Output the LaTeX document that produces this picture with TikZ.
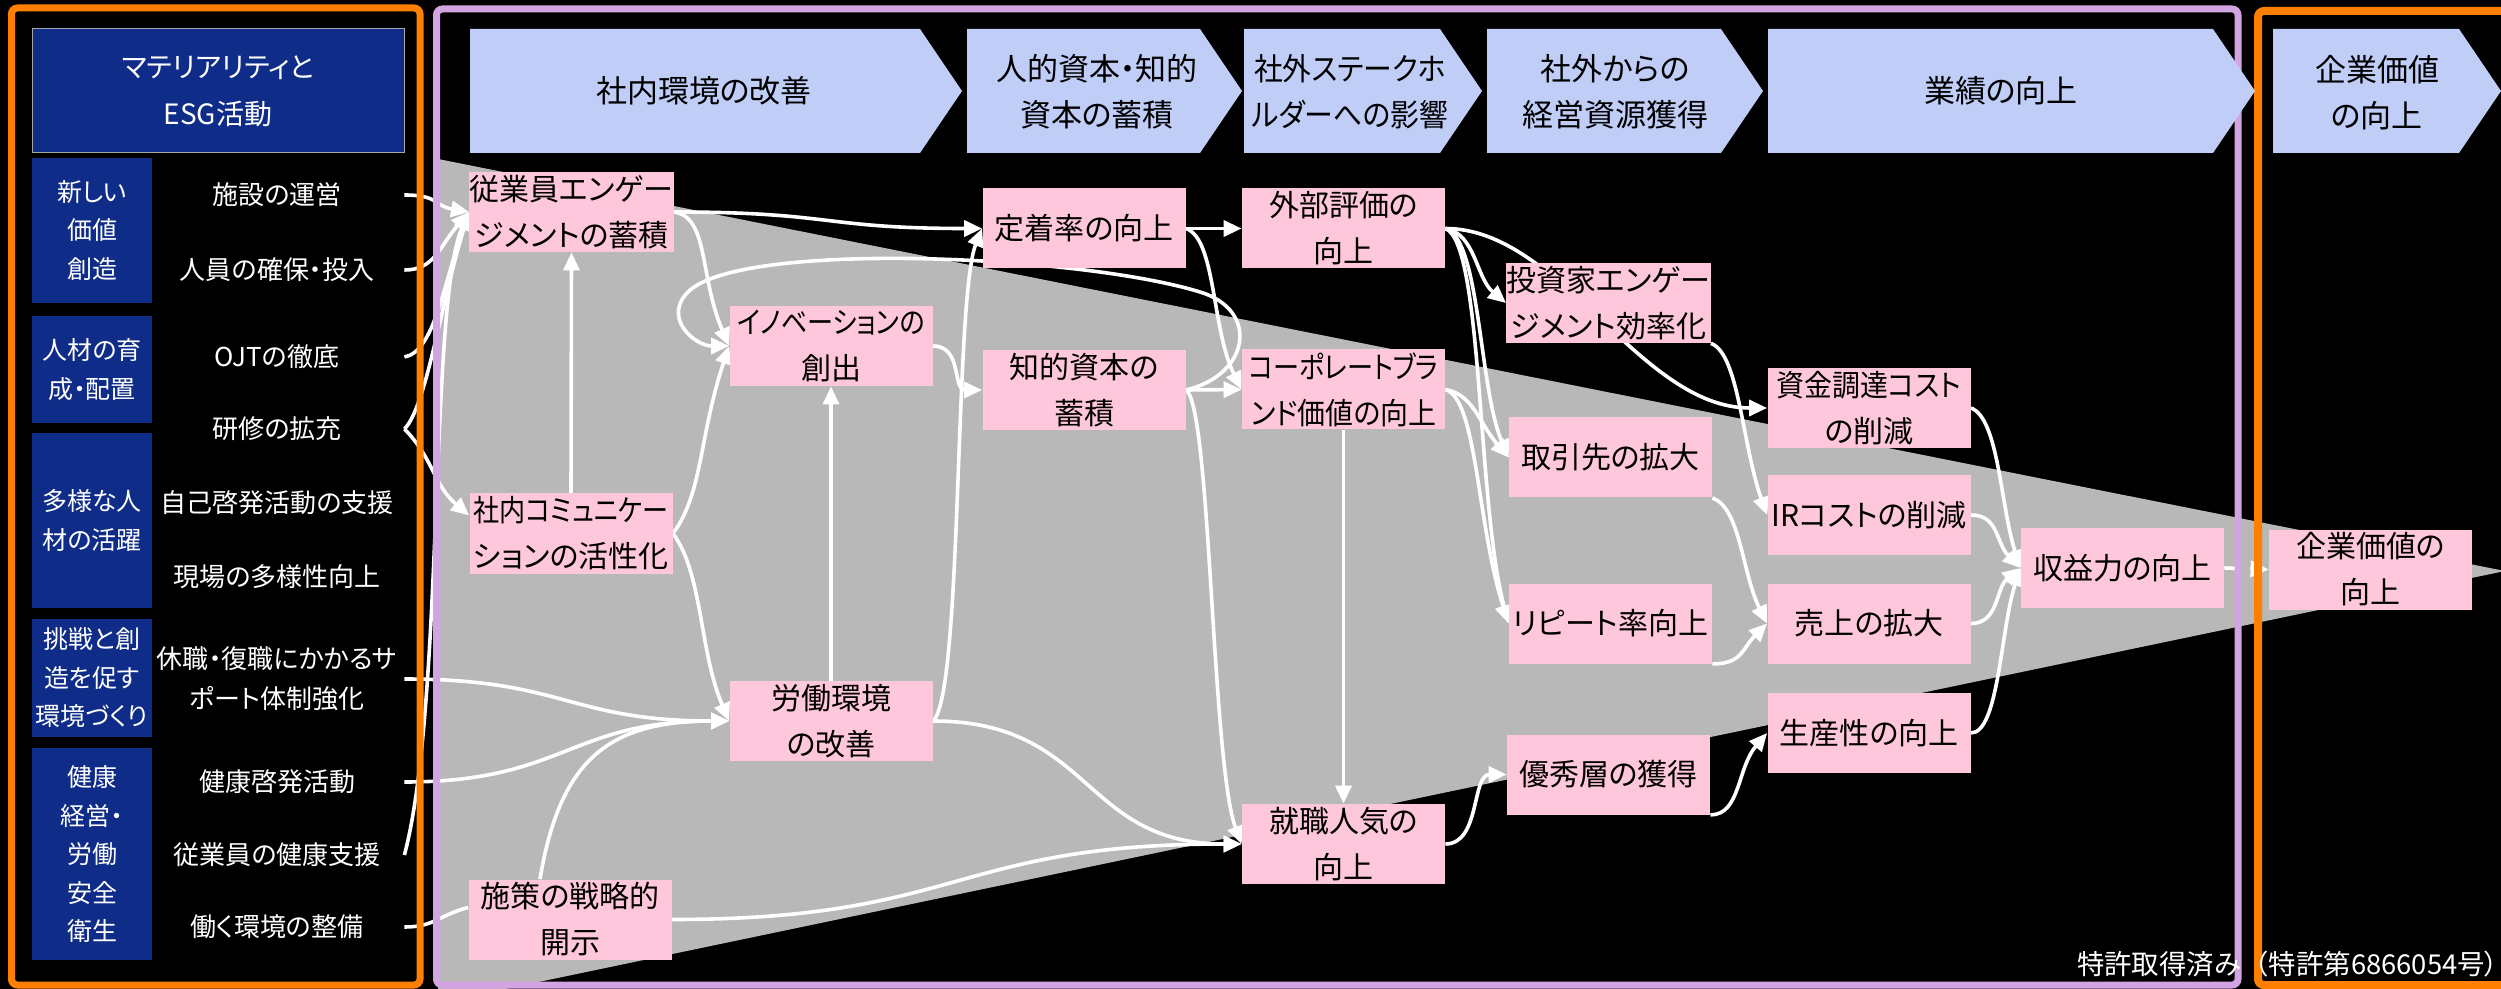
\documentclass[tikz,border=0pt]{standalone}
\usepackage{fontspec}
\usepackage{graphicx}
\setmainfont{Noto Sans CJK JP}[RawFeature={+palt}]
\newfontfamily\plainjp{Noto Sans CJK JP}
\usetikzlibrary{arrows.meta,calc}
\definecolor{navy}{HTML}{0F2C88}
\definecolor{chev}{HTML}{BFCDF7}
\definecolor{pinkbox}{HTML}{FFC7DB}
\definecolor{funnel}{HTML}{B8B8B8}
\definecolor{frameor}{HTML}{FF8000}
\definecolor{framepu}{HTML}{D2A4E1}
\newcommand{\narrowtxt}[1]{\scalebox{0.87}[1]{#1}}
\newcommand{\slimtxt}[1]{\scalebox{0.93}[1]{#1}}
\pgfdeclarelayer{bg}
\pgfdeclarelayer{edges}
\pgfsetlayers{bg,edges,main}
\tikzset{
  pbox/.style={fill=pinkbox, text=black, minimum width=101.5pt, minimum height=40pt, inner sep=0pt, align=center, font=\fontsize{15pt}{23pt}\selectfont},
  catbox/.style={fill=navy, text=white, minimum width=60pt, inner sep=0pt, align=center, font=\fontsize{12.5pt}{19.25pt}\selectfont},
  itemtext/.style={text=white, minimum width=127pt, inner sep=0pt, align=center, font=\fontsize{13pt}{20pt}\selectfont},
  chevtext/.style={text=black, inner sep=0pt, align=center, font=\fontsize{15.5pt}{23pt}\selectfont},
  chevshape/.style={fill=chev},
  conn/.style={draw=white, line width=1.8pt, -{Triangle[length=9pt,width=8pt]}},
  plainconn/.style={draw=white, line width=1.8pt},
}
\begin{document}
\begin{tikzpicture}[x=0.5pt,y=-0.5pt]
\useasboundingbox (0,0) rectangle (2501,989);
\begin{pgfonlayer}{bg}
\fill[black] (0,0) rectangle (2501,989);
\begin{scope}
\clip (0,0) rectangle (2501,989);
\fill[funnel] (438,159) -- (2505,571) -- (438,1003) -- cycle;
\end{scope}
\end{pgfonlayer}

% frames
\draw[frameor, line width=3.5pt, rounded corners=3pt] (11.5,8) rectangle (420,985);
\draw[framepu, line width=3.5pt, rounded corners=3pt] (436.5,9) rectangle (2238,985);
\draw[frameor, line width=4pt, rounded corners=3pt] (2258,11) rectangle (2530,985);

% header chevrons
\fill[chevshape] (470,29) -- (920,29) -- (962,91) -- (920,153) -- (470,153) -- cycle;
\fill[chevshape] (967,29) -- (1200,29) -- (1242,91) -- (1200,153) -- (967,153) -- cycle;
\fill[chevshape] (1244,29) -- (1440,29) -- (1482,91) -- (1440,153) -- (1244,153) -- cycle;
\fill[chevshape] (1487,29) -- (1721,29) -- (1763,91) -- (1721,153) -- (1487,153) -- cycle;
\fill[chevshape] (1768,29) -- (2213,29) -- (2255,91) -- (2213,153) -- (1768,153) -- cycle;
\fill[chevshape] (2273,29) -- (2459,29) -- (2501,91) -- (2459,153) -- (2273,153) -- cycle;
\node[chevtext] (h1) at (704,91) {社内環境の改善};
\node[chevtext] (h2) at (1097,92) {人的資本・知的\\資本の蓄積};
\node[chevtext] (h3) at (1350,92) {\slimtxt{社外ステークホ}\\\slimtxt{ルダーへの影響}};
\node[chevtext] (h4) at (1615,92) {社外からの\\経営資源獲得};
\node[chevtext] (h5) at (2001,91) {業績の向上};
\node[chevtext] (h6) at (2377,93) {企業価値\\の向上};

% left panel
\node[fill=navy, draw=gray!70, line width=0.5pt, minimum width=186pt, minimum height=62pt, inner sep=0pt, text=white, align=center, font=\fontsize{14pt}{23.5pt}\selectfont] (hdr) at (218,91) {マテリアリティと\\ESG活動};
\node[catbox, minimum height=72.5pt] (c1) at (92,230.5) {新しい\\価値\\創造};
\node[catbox, minimum height=53.5pt] (c2) at (92,369.5) {人材の育\\成・配置};
\node[catbox, minimum height=87.5pt] (c3) at (92,520.5) {多様な人\\材の活躍};
\node[catbox, minimum height=59pt] (c4) at (92,678) {挑戦と創\\造を促す\\環境づくり};
\node[catbox, minimum height=106pt] (c5) at (92,854) {健康\\経営・\\労働\\安全\\衛生};

\node[itemtext] (i1) at (277,195) {施設の運営};
\node[itemtext] (i2) at (277,270) {人員の確保・投入};
\node[itemtext] (i3) at (277,357) {OJTの徹底};
\node[itemtext] (i4) at (277,429) {研修の拡充};
\node[itemtext] (i5) at (277,503) {自己啓発活動の支援};
\node[itemtext] (i6) at (277,577) {現場の多様性向上};
\node[itemtext] (i7) at (277,679) {休職・復職にかかるサ\\ポート体制強化};
\node[itemtext] (i8) at (277,782) {健康啓発活動};
\node[itemtext] (i9) at (277,855) {従業員の健康支援};
\node[itemtext] (i10) at (277,927) {働く環境の整備};

% pink nodes
\node[pbox] (n_eng) at (571.5,212) {従業員エンゲー\\ジメントの蓄積};
\node[pbox] (n_comm) at (571,533.5) {\narrowtxt{社内コミュニケー}\\ションの活性化};
\node[pbox] (n_disc) at (570,919.5) {施策の戦略的\\開示};
\node[pbox] (n_innov) at (831,346) {\narrowtxt{イノベーションの}\\創出};
\node[pbox] (n_labor) at (831,721) {労働環境\\の改善};
\node[pbox] (n_ret) at (1084,228.5) {定着率の向上};
\node[pbox] (n_ip) at (1084,390) {知的資本の\\蓄積};
\node[pbox] (n_ext) at (1343.5,228.5) {外部評価の\\向上};
\node[pbox] (n_brand) at (1343.5,389.5) {\narrowtxt{コーポレートブラ}\\\slimtxt{ンド価値の向上}};
\node[pbox] (n_pop) at (1343.5,844) {就職人気の\\向上};
\node[pbox] (n_inv) at (1608.5,303) {投資家エンゲー\\ジメント効率化};
\node[pbox] (n_cli) at (1610.5,457.5) {取引先の拡大};
\node[pbox] (n_rep) at (1610.5,623.5) {リピート率向上};
\node[pbox] (n_tal) at (1608.5,774.5) {優秀層の獲得};
\node[pbox] (n_fund) at (1869,408) {\slimtxt{資金調達コスト}\\の削減};
\node[pbox] (n_ir) at (1869,515) {IRコストの削減};
\node[pbox] (n_sales) at (1869,623.5) {売上の拡大};
\node[pbox] (n_prod) at (1869,733) {生産性の向上};
\node[pbox] (n_prof) at (2122.5,568) {収益力の向上};
\node[pbox] (n_val) at (2370.5,569.5) {企業価値の\\向上};

\node[text=white, anchor=east, inner sep=0pt, font=\plainjp\fontsize{13.7pt}{16pt}\selectfont] (patent) at (2499,964) {特許取得済み（特許第6866054号{\normalfont ）}};

\begin{pgfonlayer}{edges}
% from the ESG items
\draw[conn] (i1.east) .. controls +(35,0) and +(-35,-6) .. (n_eng.west);
\draw[conn] (i2.east) .. controls +(30,0) and +(-30,35) .. (n_eng.west);
\draw[conn] (i3.east) .. controls +(30,-5) and +(-25,70) .. (n_eng.west);
\draw[conn] (i4.east) .. controls +(22,-22) and +(-28,90) .. (n_eng.west);
\draw[conn] (i4.east) .. controls +(28,28) and +(-35,-30) .. ($(n_comm.west)+(0,-18)$);
\draw[conn] (i9.east) .. controls +(40,-150) and +(-40,90) .. (n_eng.west);
\draw[conn] (i7.east) .. controls +(160,0) and +(-160,0) .. (n_labor.west);
\draw[conn] (i8.east) .. controls +(160,0) and +(-160,0) .. (n_labor.west);
\draw[plainconn] (i10.east) .. controls +(30,0) and +(-30,8) .. ($(n_disc.west)+(0,-12)$);
% internal environment
\draw[conn] (n_comm.north) -- (n_eng.south);
\draw[conn] (n_comm.east) .. controls +(30,-40) and +(-30,90) .. (n_innov.west);
\draw[conn] (n_comm.east) .. controls +(30,40) and +(-30,-70) .. (n_labor.west);
\draw[conn] (n_eng.east) .. controls +(35,5) and +(-30,-70) .. (n_innov.west);
\draw[conn] (n_eng.east) .. controls +(160,0) and +(-160,0) .. (n_ret.west);
\draw[conn] ($(n_disc.north)+(-30,0)$) .. controls +(20,-120) and +(-120,0) .. (n_labor.west);
\draw[conn] (n_disc.east) .. controls +(290,0) and +(-290,0) .. (n_pop.west);
\draw[conn] (n_labor.north) -- (n_innov.south);
\draw[conn] (n_labor.east) .. controls +(30,-25) and +(-28,70) .. (n_ret.west);
\draw[conn] (n_labor.east) .. controls +(160,0) and +(-160,0) .. (n_pop.west);
\draw[conn] (n_innov.east) .. controls +(30,0) and +(-30,0) .. (n_ip.west);
\draw[conn] (n_ip.east) .. controls (1250,375) and (1260,310) .. (1200,292) .. controls (1080,255) and (740,240) .. (688,292) .. controls (662,318) and (695,346) .. (n_innov.west);
% capital
\draw[conn] (n_ip.east) -- (n_brand.west);
\draw[conn] (n_ip.east) .. controls +(25,15) and +(-30,-80) .. (n_pop.west);
\draw[conn] (n_ret.east) -- (n_ext.west);
\draw[conn] (n_ret.east) .. controls +(30,10) and +(-30,-60) .. (n_brand.west);
\draw[conn] (n_brand.south) -- (n_pop.north);
% stakeholders
\draw[conn] (n_ext.east) .. controls +(30,5) and +(-30,-25) .. (n_inv.west);
\draw[conn] (n_ext.east) .. controls +(115,0) and +(-128,0) .. (n_fund.west);
\draw[conn] (n_ext.east) .. controls +(35,10) and +(-30,-70) .. (n_cli.west);
\draw[conn] (n_ext.east) .. controls +(38,15) and +(-32,-120) .. (n_rep.west);
\draw[conn] (n_brand.east) .. controls +(28,5) and +(-30,-35) .. (n_cli.west);
\draw[conn] (n_brand.east) .. controls +(32,10) and +(-32,-100) .. (n_rep.west);
\draw[conn] (n_pop.east) .. controls +(35,0) and +(-35,0) .. (n_tal.west);
% resources
\draw[conn] (n_inv.south east) .. controls +(28,10) and +(-25,-70) .. (n_ir.west);
\draw[conn] (n_cli.south east) .. controls +(28,10) and +(-25,-50) .. (n_sales.west);
\draw[conn] (n_rep.south east) .. controls +(30,0) and +(-25,25) .. (n_sales.west);
\draw[conn] (n_tal.south east) .. controls +(30,0) and +(-30,35) .. (n_prod.west);
% results
\draw[conn] (n_fund.east) .. controls +(28,10) and +(-20,-60) .. (n_prof.west);
\draw[conn] (n_ir.east) .. controls +(28,0) and +(-25,-25) .. (n_prof.west);
\draw[conn] (n_sales.east) .. controls +(28,0) and +(-25,20) .. (n_prof.west);
\draw[conn] (n_prod.east) .. controls +(28,0) and +(-20,60) .. (n_prof.west);
\draw[conn, dash pattern=on 8pt off 5pt] (n_prof.east) -- (n_val.west);
\end{pgfonlayer}
\end{tikzpicture}
\end{document}
